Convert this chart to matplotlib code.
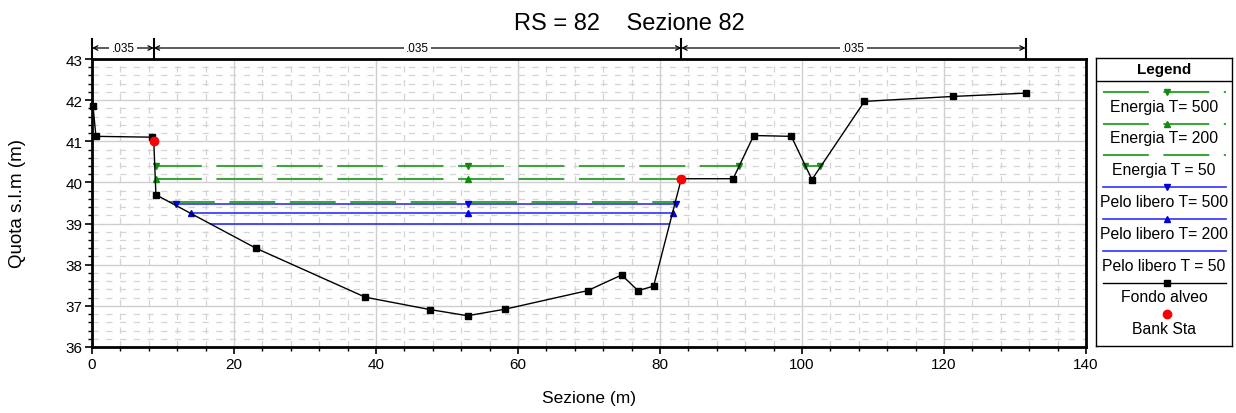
import numpy as np
import matplotlib
matplotlib.use("Agg")
import matplotlib.pyplot as plt
import matplotlib.transforms as mtrans

plt.rcParams['font.family'] = ['Liberation Sans', 'DejaVu Sans']

# ---------------- data ----------------
title = "RS = 82    Sezione 82"
xlabel = "Sezione (m)"
ylabel = "Quota s.l.m (m)"

bed_x = [0.15, 0.55, 8.4, 8.7, 9.0, 23.1, 38.5, 47.6, 52.9, 58.2, 69.8, 74.6, 76.9, 79.1,
         83.0, 90.3, 93.2, 98.5, 101.4, 108.8, 121.3, 131.5]
bed_y = [41.85, 41.12, 41.10, 41.01, 39.70, 38.40, 37.21, 36.91, 36.76, 36.92, 37.37, 37.75,
         37.37, 37.48, 40.09, 40.09, 41.14, 41.12, 40.07, 41.97, 42.09, 42.17]

bank_x = [8.7, 83.0]
bank_y = [41.01, 40.09]

eg500_x = [9.0, 52.9, 91.1, np.nan, 100.4, 102.5]
eg500_y = [40.39, 40.39, 40.39, np.nan, 40.39, 40.39]
eg200_x = [9.0, 52.9, 83.0]
eg200_y = [40.08, 40.08, 40.08]
eg50_x = [10.8, 82.3]
eg50_y = [39.53, 39.53]

ws500_x = [11.8, 52.9, 82.2]
ws500_y = [39.47, 39.47, 39.47]
ws200_x = [13.9, 52.9, 81.9]
ws200_y = [39.25, 39.25, 39.25]
ws50_x = [16.8, 81.3]
ws50_y = [38.98, 38.98]

n_bounds = [0.0, 8.7, 83.0, 131.5]
n_values = [".035", ".035", ".035"]

legend_labels = ["Energia T= 500", "Energia T= 200", "Energia T = 50",
                 "Pelo libero T= 500", "Pelo libero T= 200", "Pelo libero T = 50",
                 "Fondo alveo", "Bank Sta"]

# ---------------- styles ----------------
GREEN = '#3ea43e'
GREEN_M = '#138a13'
BLUE = '#3030ff'
BLUE_M = '#0000e0'
DASH = (22, 7)

W, H = 1236, 414
fig = plt.figure(figsize=(W / 100, H / 100), dpi=100)
L, R, T, B = 92, 1086, 60, 348
ax = fig.add_axes([L / W, 1 - B / H, (R - L) / W, (B - T) / H])

ax.set_xlim(0, 140)
ax.set_ylim(36, 43)
ax.set_xticks(np.arange(0, 141, 20))
ax.set_yticks(np.arange(36, 43.1, 1))
ax.set_xticks(np.arange(0, 141, 4), minor=True)
ax.set_yticks(np.arange(36, 43.01, 0.2), minor=True)
ax.tick_params(which='major', direction='out', length=5, width=1.2, labelsize=11, pad=2)
ax.tick_params(which='minor', direction='out', length=3, width=1.0)
for s in ax.spines.values():
    s.set_linewidth(2.0)

ax.grid(which='major', color='#cfcfcf', lw=1.0, zorder=0)
ax.grid(which='minor', color='#d4d4d4', lw=0.9, linestyle=(0, (5, 6)), zorder=0)
ax.set_axisbelow(True)

lw_e = 1.5
ax.plot(eg500_x, eg500_y, color=GREEN, lw=lw_e, dashes=DASH, marker='v', ms=4.5,
        mfc=GREEN_M, mec=GREEN_M, zorder=3)
ax.plot(eg200_x, eg200_y, color=GREEN, lw=lw_e, dashes=DASH, marker='^', ms=4.5,
        mfc=GREEN_M, mec=GREEN_M, zorder=3)
ax.plot(eg50_x, eg50_y, color=GREEN, lw=lw_e, dashes=DASH, zorder=3)

ax.plot(ws500_x, ws500_y, color=BLUE, lw=1.2, marker='v', ms=4.5, mfc=BLUE_M, mec=BLUE_M, zorder=3)
ax.plot(ws200_x, ws200_y, color=BLUE, lw=1.2, marker='^', ms=4.5, mfc=BLUE_M, mec=BLUE_M, zorder=3)
ax.plot(ws50_x, ws50_y, color=BLUE, lw=1.2, zorder=3)

ax.plot(bed_x, bed_y, color='black', lw=1.0, marker='s', ms=4.5, mfc='black', mec='black',
        zorder=4, clip_on=False)
ax.plot(bank_x, bank_y, linestyle='none', marker='o', ms=6, mfc='red', mec='red', zorder=5)

ax.set_xlabel(xlabel, fontsize=12.5, labelpad=14)
ax.set_ylabel(ylabel, fontsize=13.5)
ax.yaxis.label.set_verticalalignment('center')
ax.yaxis.set_label_coords((18 - L) / (R - L), 0.5)
fig.text(629 / W, 1 - 30 / H, title, ha='center', va='baseline', fontsize=17)

# Manning's n bands above the plot
tr = mtrans.blended_transform_factory(ax.transData, ax.transAxes)
y_arrow = (B - 49) / (B - T)
y_bar0, y_bar1 = 1.0, (B - 40) / (B - T)
for xb in n_bounds:
    ax.plot([xb, xb], [y_bar0, y_bar1], color='black', lw=1.5, transform=tr, clip_on=False)
for i, v in enumerate(n_values):
    x0, x1 = n_bounds[i], n_bounds[i + 1]
    ax.annotate('', xy=(x0, y_arrow), xytext=(x1, y_arrow), xycoords=tr, textcoords=tr,
                arrowprops=dict(arrowstyle='<->', lw=0.9, color='black',
                                shrinkA=0, shrinkB=0, mutation_scale=8))
    ax.text((x0 + x1) / 2, y_arrow, v, transform=tr, ha='center', va='center', fontsize=8.5,
            bbox=dict(facecolor='white', edgecolor='none', pad=1.5), clip_on=False)

# ---------------- legend ----------------
LL, LR, LT, LB = 1096, 1232, 59, 347
lax = fig.add_axes([LL / W, 1 - LB / H, (LR - LL) / W, (LB - LT) / H])
lax.set_xlim(0, LR - LL)
lax.set_ylim(LB - LT, 0)
lax.set_xticks([])
lax.set_yticks([])
for s in lax.spines.values():
    s.set_linewidth(1.0)
lax.text((LR - LL) / 2, 11, "Legend", ha='center', va='center', fontsize=11, fontweight='bold')
lax.plot([0, LR - LL], [22.7, 22.7], color='black', lw=1.0)

styles = [
    dict(color=GREEN, lw=lw_e, dashes=DASH, marker='v', mfc=GREEN_M, mec=GREEN_M),
    dict(color=GREEN, lw=lw_e, dashes=DASH, marker='^', mfc=GREEN_M, mec=GREEN_M),
    dict(color=GREEN, lw=lw_e, dashes=DASH, marker=None),
    dict(color=BLUE, lw=1.2, marker='v', mfc=BLUE_M, mec=BLUE_M),
    dict(color=BLUE, lw=1.2, marker='^', mfc=BLUE_M, mec=BLUE_M),
    dict(color=BLUE, lw=1.2, marker=None),
    dict(color='black', lw=1.0, marker='s', mfc='black', mec='black'),
    dict(color='none', lw=0, marker='o', mfc='red', mec='red', ms=6),
]
for i, (lab, st) in enumerate(zip(legend_labels, styles)):
    yl = 33.7 + i * 31.8
    st = dict(st)
    ms = st.pop('ms', 4.5)
    mk = st.pop('marker')
    lax.plot([7, 130], [yl, yl], **{k: v for k, v in st.items() if k not in ('mfc', 'mec')})
    if mk is not None:
        lax.plot([71], [yl], linestyle='none', marker=mk, ms=ms, mfc=st['mfc'], mec=st['mec'])
    lax.text((LR - LL) / 2, yl + 14.5, lab, ha='center', va='center', fontsize=11.3)

fig.savefig('out.png', dpi=100)
